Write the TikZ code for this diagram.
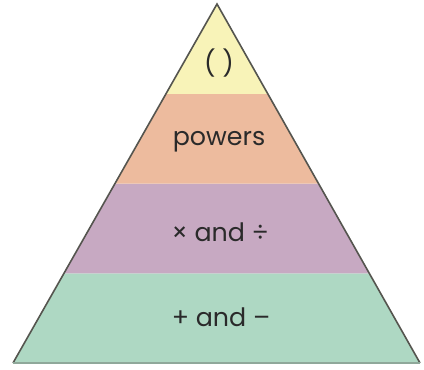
\documentclass[tikz,border=0pt]{standalone}
\usepackage{fontspec}
\setmainfont{Poppins}
\usepackage{xcolor}
\usepackage{tikz}
\usetikzlibrary{
	calc,
	positioning
}

\definecolor{yellowband}{HTML}{F8F3B8}
\definecolor{orangeband}{HTML}{EDBB9E}
\definecolor{purpleband}{HTML}{C7A9C2}
\definecolor{greenband}{HTML}{AED8C3}
\definecolor{edgegray}{HTML}{55554F}
\definecolor{basegreen}{HTML}{8FA89A}
\definecolor{labelgray}{HTML}{2A2A2A}

\begin{document}
\begin{tikzpicture}[x=0.75pt, y=0.75pt,
		bandlabel/.style={text=labelgray, font=\fontsize{19}{22}\selectfont, inner sep=0pt}]
		\useasboundingbox (0,0) rectangle (424,369);
		\coordinate (L) at (13,6);
		\coordinate (R) at (420,6);
		\coordinate (A) at (217,365);
		% bands, bottom to top
		\foreach \lo/\hi/\col in {0/.25/greenband, .25/.5/purpleband, .5/.75/orangeband} {
			\fill[\col] ($(L)!\lo!(A)$) -- ($(L)!\hi!(A)$) -- ($(R)!\hi!(A)$) -- ($(R)!\lo!(A)$) -- cycle;
		}
		\fill[yellowband] ($(L)!.75!(A)$) -- (A) -- ($(R)!.75!(A)$) -- cycle;
		\draw[edgegray, line width=1.2pt, line join=miter] (L) -- (A) -- (R);
		\draw[basegreen, line width=1.5pt] (L) -- (R);
		% labels
		\node[bandlabel] (paren) at (219,306) {( )};
		\node[bandlabel] (powers) at (219,227) {powers};
		\node[bandlabel] (muldiv) at (220,137) {× and ÷};
		\node[bandlabel] (addsub) at (221,52) {+ and –};
	\end{tikzpicture}
\end{document}
